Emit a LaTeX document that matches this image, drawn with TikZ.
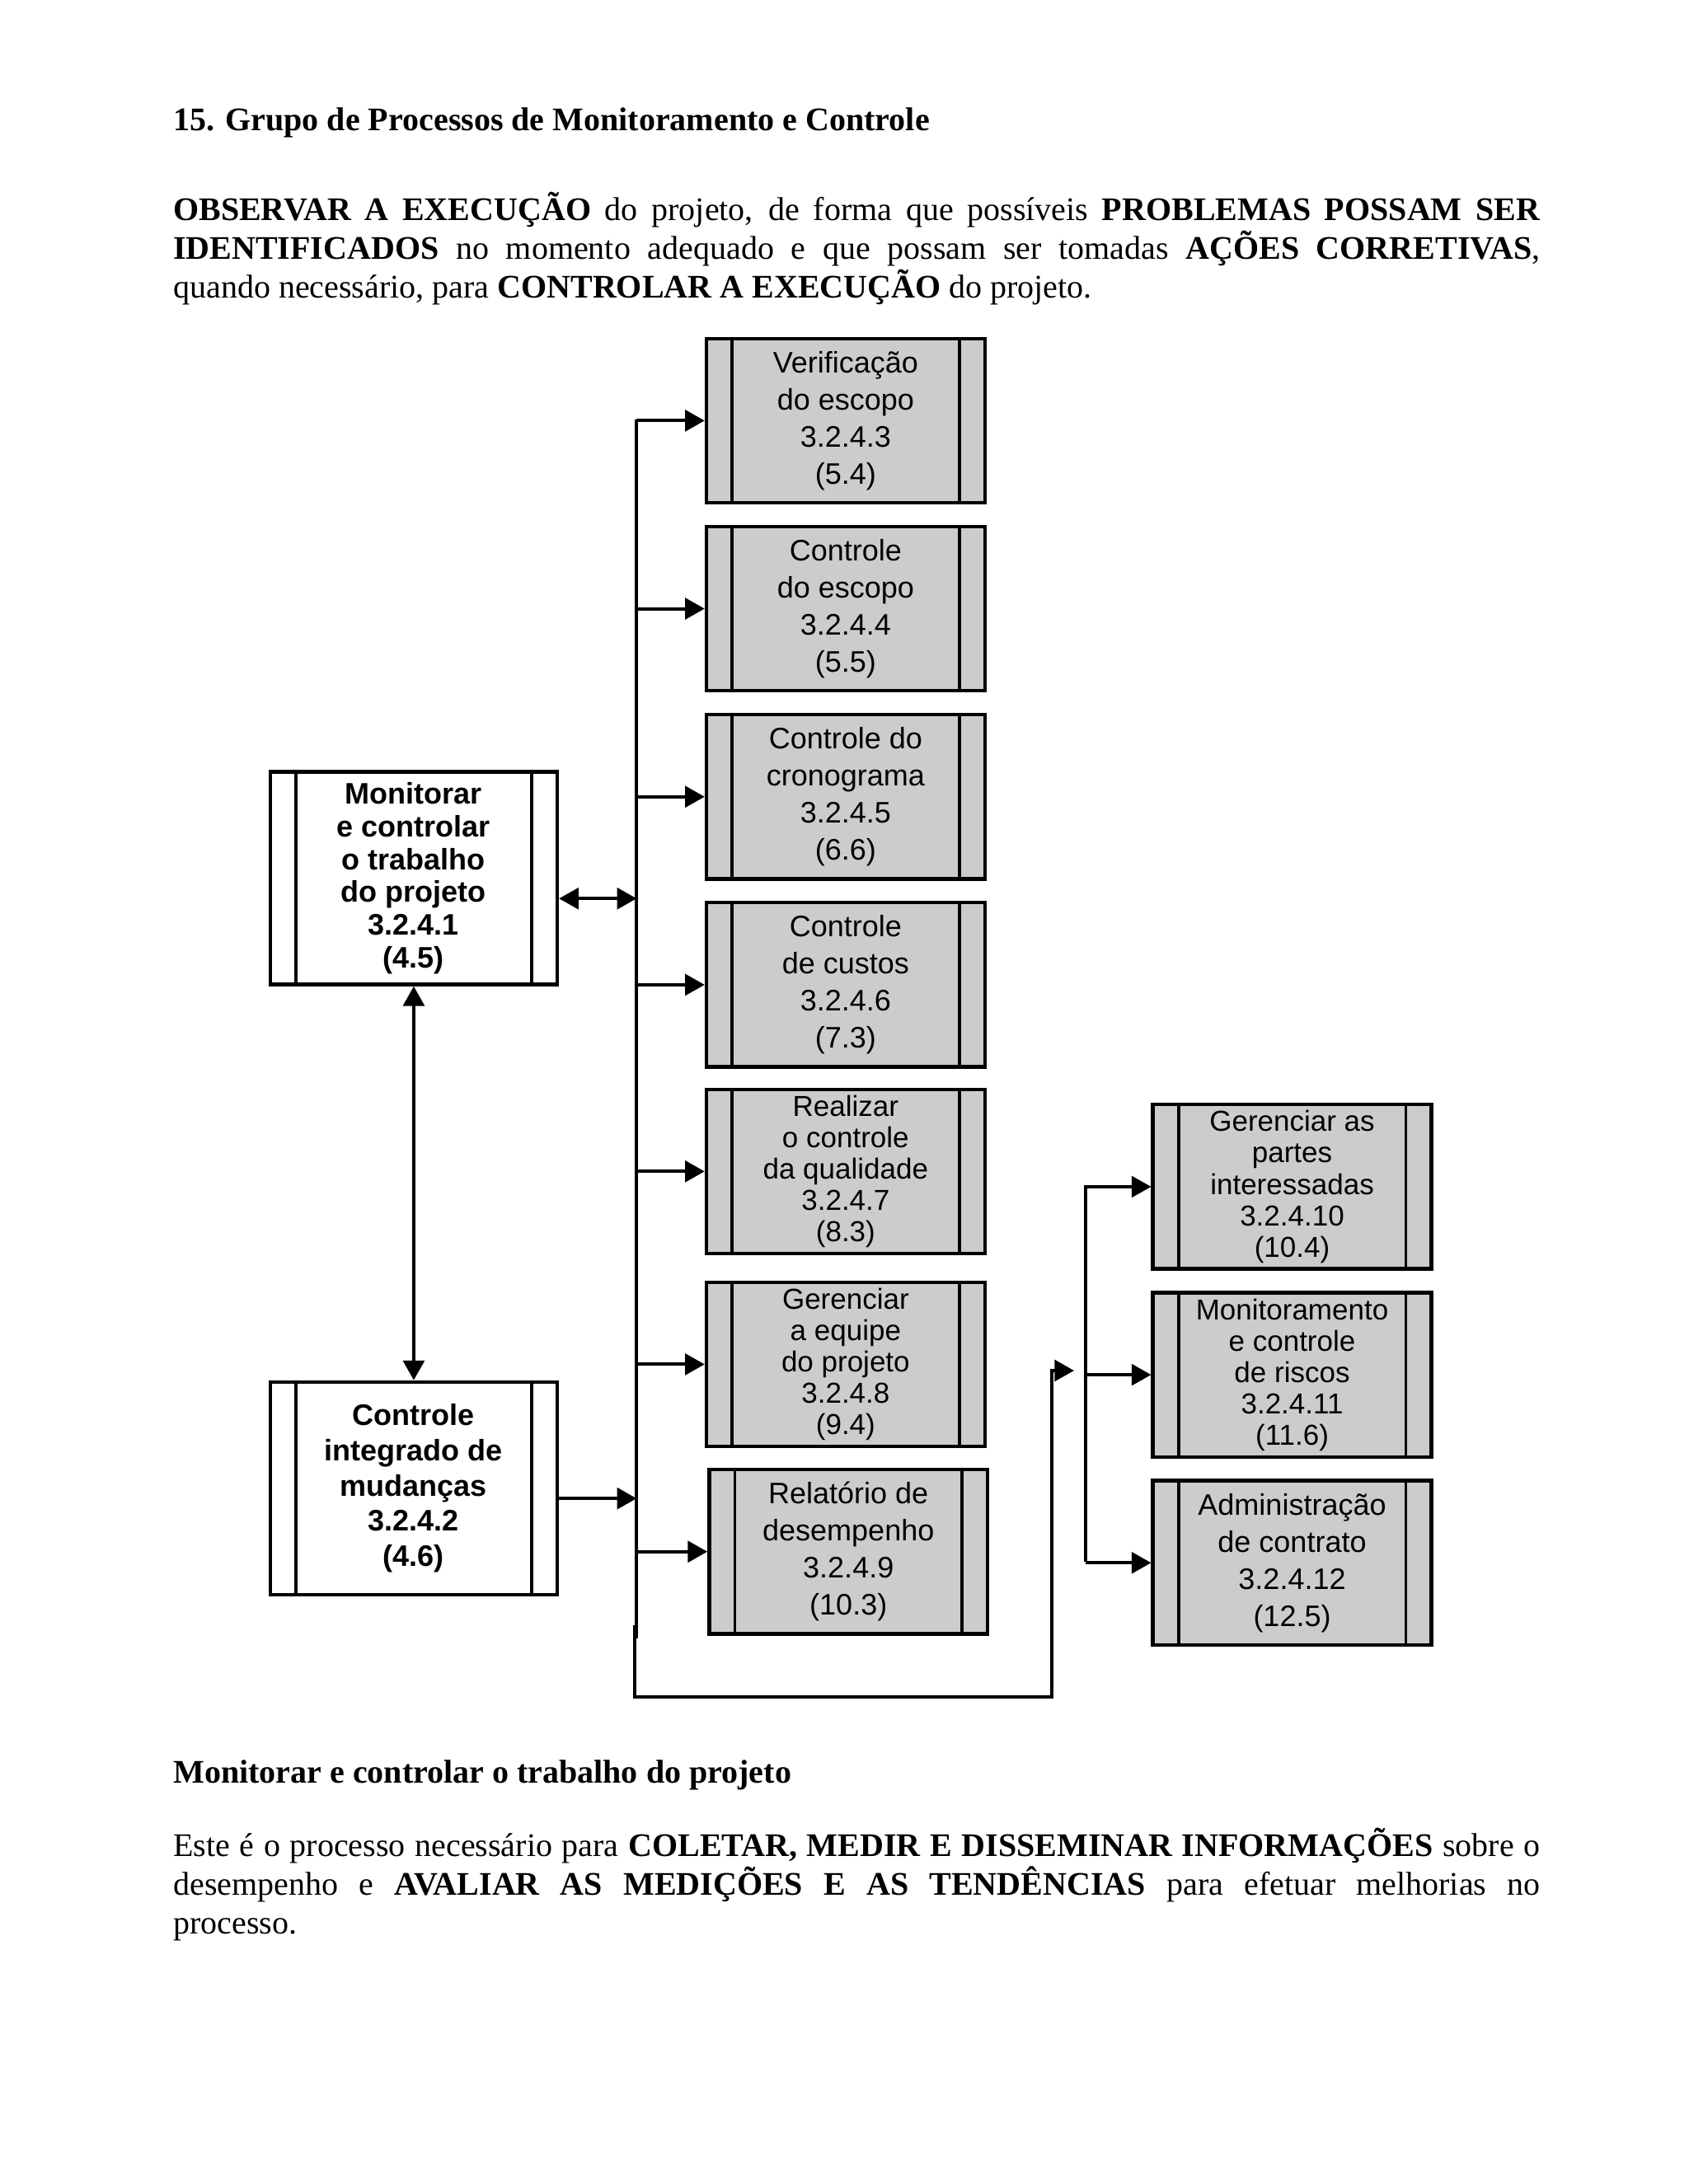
\documentclass[tikz,border=0pt]{standalone}
\usepackage{fontspec}
\setmainfont{Liberation Serif}
\newfontfamily\diagfont{Liberation Sans}
\usetikzlibrary{arrows.meta}
\definecolor{boxgray}{gray}{0.8}
\tikzset{
  proc/.style={draw, line width=1.3pt, fill=boxgray, minimum width=35.6mm,
    minimum height=21mm, inner sep=0pt, align=center,
    font=\diagfont\fontsize{10.8}{13.5}\selectfont},
  tight/.style={font=\diagfont\fontsize{10.5}{11.4}\selectfont},
  ctrl/.style={proc, fill=white, minimum width=36.7mm, minimum height=27.2mm},
  link/.style={line width=1.2pt},
  para/.style={anchor=base west, inner sep=0pt, text width=174.8mm,
    align=justify, font=\fontsize{12}{14.1}\selectfont},
}
\begin{document}
\begin{tikzpicture}[x=0.17814mm,y=-0.17814mm,>={Triangle[length=2.5mm,width=2.7mm]}]
\useasboundingbox[fill=white] (0,0) rectangle (1212,1568);
% texto
\node[para,font=\bfseries\fontsize{12}{14.1}\selectfont] (title) at (124,94)
	{15. Grupo de Processos de Monitoramento e Controle};
\node[para] (intro) at (124,158) {\textbf{OBSERVAR A EXECUÇÃO} do projeto,
	de forma que possíveis \textbf{PROBLEMAS POSSAM SER}\linebreak
	\textbf{IDENTIFICADOS} no momento adequado e que possam ser tomadas
	\textbf{AÇÕES CORRETIVAS},\linebreak
	quando necessário, para \textbf{CONTROLAR A EXECUÇÃO} do projeto.};
% processos
\node[proc] (v1) at (607,302) {Verificação\\do escopo\\3.2.4.3\\(5.4)};
\node[proc] (v2) at (607,437) {Controle\\do escopo\\3.2.4.4\\(5.5)};
\node[proc] (v3) at (607,572) {Controle do\\cronograma\\3.2.4.5\\(6.6)};
\node[proc] (v4) at (607,707) {Controle\\de custos\\3.2.4.6\\(7.3)};
\node[proc,tight] (v5) at (607,841) {Realizar\\o controle\\da qualidade\\3.2.4.7\\(8.3)};
\node[proc,tight] (v6) at (607,979.5) {Gerenciar\\a equipe\\do projeto\\3.2.4.8\\(9.4)};
\node[proc] (v7) at (609,1114) {Relatório de\\desempenho\\3.2.4.9\\(10.3)};
\node[proc,tight] (r1) at (927.5,852) {Gerenciar as\\partes\\interessadas\\3.2.4.10\\(10.4)};
\node[proc,tight] (r2) at (927.5,987) {Monitoramento\\e controle\\de riscos\\3.2.4.11\\(11.6)};
\node[proc] (r3) at (927.5,1122) {Administração\\de contrato\\3.2.4.12\\(12.5)};
\node[ctrl,font=\diagfont\bfseries\fontsize{10.8}{11.9}\selectfont] (m1) at (297,630.5)
	{Monitorar\\e controlar\\o trabalho\\do projeto\\3.2.4.1\\(4.5)};
\node[ctrl,font=\diagfont\bfseries\fontsize{10.8}{12.8}\selectfont] (m2) at (297,1068.5)
	{Controle\\integrado de\\mudanças\\3.2.4.2\\(4.6)};
\foreach \b in {v1,v2,v3,v4,v5,v6,v7,r1,r2,r3,m1,m2}{
\draw[line width=1.1pt] ([xshift=3.5mm]\b.north west)--([xshift=3.5mm]\b.south west);
\draw[line width=1.1pt] ([xshift=-3.5mm]\b.north east)--([xshift=-3.5mm]\b.south east);
};
% barramentos
\coordinate (bus) at (457,301);
\coordinate (busend) at (457,1176);
\coordinate (back) at (455.5,1167);
\coordinate (backlow) at (455.5,1218);
\coordinate (backup) at (755,984);
\coordinate (backtip) at (771,984);
\coordinate (rbus) at (779,851);
\coordinate (rbusend) at (779,1121);
\coordinate (m1out) at ([yshift=-2.6mm]m1.east);
\coordinate (m2out) at ([yshift=-1.3mm]m2.east);
\draw[link] (bus)--(busend);
\draw[link] (rbus)--(rbusend);
\foreach \b in {v1,v2,v3,v4,v5,v6,v7}{
\draw[link,->] (bus |- \b.west)--(\b.west);
};
\foreach \b in {r1,r2,r3}{
\draw[link,->] (rbus |- \b.west)--(\b.west);
};
\draw[link,<->] (m1out)--(bus |- m1out);
\draw[link,->] (m2out)--(bus |- m2out);
\draw[link,<->] (m1.south)--(m2.north);
\draw[link,->] (back)--(backlow)-|(backup)--(backtip);
% texto final
\node[para,font=\bfseries\fontsize{12}{14.1}\selectfont] (sub) at (124,1280)
	{Monitorar e controlar o trabalho do projeto};
\node[para] (desc) at (124,1333) {Este é o processo necessário para
	\textbf{COLETAR, MEDIR E DISSEMINAR INFORMAÇÕES} sobre o\linebreak
	desempenho e \textbf{AVALIAR AS MEDIÇÕES E AS TENDÊNCIAS} para efetuar
	melhorias no\linebreak processo.};
\end{tikzpicture}
\end{document}
